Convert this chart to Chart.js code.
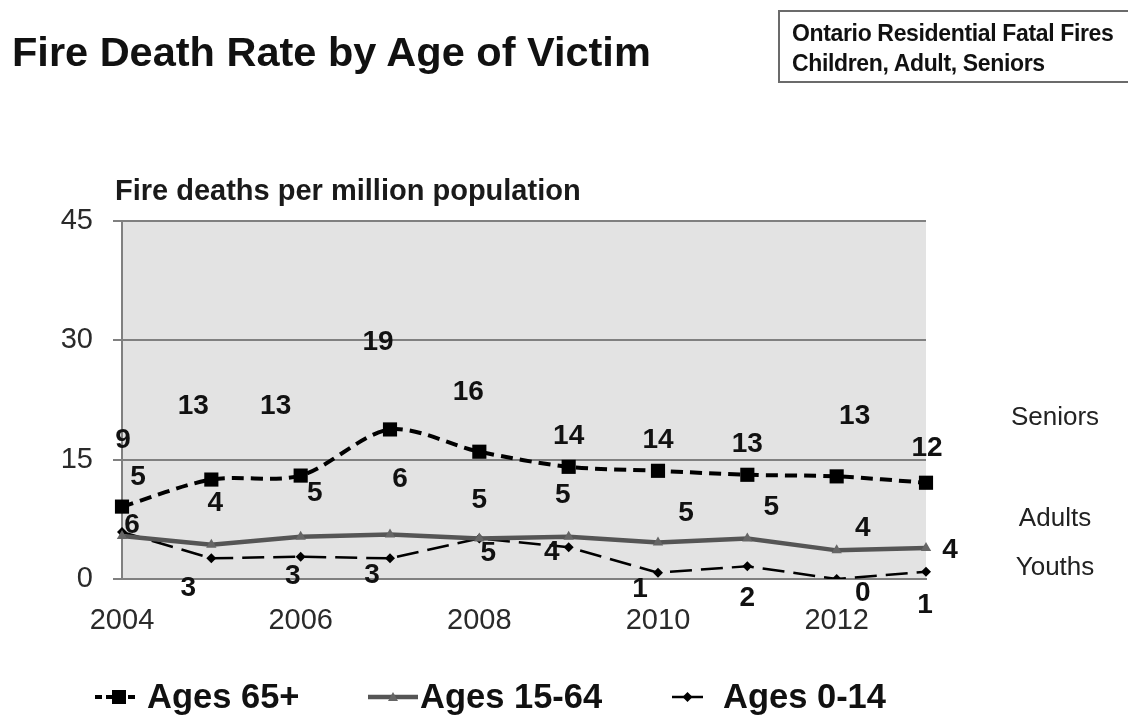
<!DOCTYPE html>
<html>
<head>
<meta charset="utf-8">
<script src="https://cdn.jsdelivr.net/npm/chart.js@4.4.1/dist/chart.umd.min.js"></script>
<style>
  body { margin: 0; background: #fff; font-family: "Liberation Sans", Arial, sans-serif; }
  #wrap { position: relative; width: 1128px; height: 717px; overflow: hidden; }
  #title { position: absolute; left: 12px; top: 31px; font-weight: bold; font-size: 41.5px; line-height: 1; color: #111; white-space: nowrap; }
  #box { position: absolute; left: 778px; top: 10px; width: 400px; height: 73px; border: 2px solid #6b6b6b; box-sizing: border-box; }
  #boxText { position: absolute; left: 792px; top: 18px; font-weight: bold; font-size: 23px; line-height: 30px; letter-spacing: -0.35px; color: #111; white-space: nowrap; }
  canvas { position: absolute; left: 0; top: 0; }
</style>
</head>
<body>
<div id="wrap">
  <canvas id="chart" width="1128" height="717"></canvas>
  <div id="title">Fire Death Rate by Age of Victim</div>
  <div id="box"></div>
  <div id="boxText">Ontario Residential Fatal Fires<br>Children, Adult, Seniors</div>
</div>
<script>
// chart values
const years = ['2004', '2005', '2006', '2007', '2008', '2009', '2010', '2011', '2012', '2013'];
const shownYears = ['2004', '2006', '2008', '2010', '2012'];
const seniors = [9.1, 12.5, 13.0, 18.8, 16.0, 14.1, 13.6, 13.1, 12.9, 12.1];
const adults = [5.4, 4.3, 5.3, 5.6, 5.1, 5.3, 4.6, 5.1, 3.6, 3.9];
const youths = [5.9, 2.6, 2.8, 2.6, 5.1, 4.0, 0.8, 1.6, 0.0, 0.9];
const seriesNames = ['Ages 65+', 'Ages 15-64', 'Ages 0-14'];
const groupNames = ['Seniors', 'Adults', 'Youths'];
const yAxisTitle = 'Fire deaths per million population';

// label nudges (px) so the numbers sit where the original put them
const seniorsShift = [[1,-66],[-18,-73],[-25,-69],[-12,-87],[-11,-59],[0,-31],[0,-31],[0,-31],[18,-60],[1,-34]];
const adultsShift = [[16,-59],[4,-42],[14,-44],[10,-55],[0,-38],[-6,-42],[28,-29],[24,-31],[26,-22],[24,2]];
const youthsShift = [[10,-7],[-23,30],[-8,20],[-18,17],[9,15],[-17,5],[-18,17],[0,32],[26,14],[-1,33]];

const FONT = '"Liberation Sans", Arial, sans-serif';

function marker(ctx, style, x, y, r, color) {
    ctx.save();
    ctx.fillStyle = color;
    ctx.beginPath();
    if (style === 'rect') {
        ctx.rect(x - r, y - r, 2 * r, 2 * r);
    } else if (style === 'triangle') {
        ctx.moveTo(x, y - r);
        ctx.lineTo(x + r, y + r * 0.8);
        ctx.lineTo(x - r, y + r * 0.8);
        ctx.closePath();
    } else {
        ctx.moveTo(x, y - r);
        ctx.lineTo(x + r, y);
        ctx.lineTo(x, y + r);
        ctx.lineTo(x - r, y);
        ctx.closePath();
    }
    ctx.fill();
    ctx.restore();
}

const decor = {
    id: 'decor',
    beforeDraw(chart) {
        const { ctx, chartArea: a } = chart;
        ctx.save();
        ctx.fillStyle = '#e3e3e3';
        ctx.fillRect(a.left, a.top, a.right - a.left, a.bottom - a.top);
        ctx.restore();
    },
    afterDatasetsDraw(chart) {
        const ctx = chart.ctx;
        const shifts = [seniorsShift, adultsShift, youthsShift];
        ctx.save();
        ctx.font = 'bold 28px ' + FONT;
        ctx.fillStyle = '#111';
        ctx.textAlign = 'center';
        ctx.textBaseline = 'middle';
        chart.data.datasets.forEach((ds, di) => {
            chart.getDatasetMeta(di).data.forEach((pt, i) => {
                const s = shifts[di][i];
                ctx.fillText(String(Math.round(ds.data[i])), pt.x + s[0], pt.y + s[1]);
            });
        });
        ctx.restore();
    },
    afterDraw(chart) {
        const { ctx, chartArea: a, scales } = chart;
        ctx.save();
        // axis title above the plot
        ctx.font = 'bold 29px ' + FONT;
        ctx.fillStyle = '#1a1a1a';
        ctx.textAlign = 'left';
        ctx.textBaseline = 'middle';
        ctx.fillText(yAxisTitle, a.left - 7, a.top - 29);

        // group names at the right
        ctx.font = '26px ' + FONT;
        ctx.fillStyle = '#222';
        ctx.textAlign = 'center';
        const groupAt = [20.25, 7.6, 1.4];
        groupNames.forEach((n, i) => {
            ctx.fillText(n, 1055, scales.y.getPixelForValue(groupAt[i]));
        });

        // legend along the bottom
        const legX = [95, 368, 672];
        const legW = [40, 50, 31];
        const textX = [147, 420, 723];
        const ly = 697;
        chart.data.datasets.forEach((ds, i) => {
            ctx.save();
            ctx.strokeStyle = ds.borderColor;
            ctx.lineWidth = ds.borderWidth;
            ctx.setLineDash(i === 0 ? [7, 4] : []);
            ctx.beginPath();
            ctx.moveTo(legX[i], ly);
            ctx.lineTo(legX[i] + legW[i], ly);
            ctx.stroke();
            ctx.restore();
            marker(ctx, ds.pointStyle, legX[i] + legW[i] / 2 + (i === 0 ? 4 : 0), ly, i === 0 ? 7 : 5, ds.pointBackgroundColor);
            ctx.font = 'bold 34.5px ' + FONT;
            ctx.fillStyle = '#111';
            ctx.textAlign = 'left';
            ctx.textBaseline = 'alphabetic';
            ctx.fillText(ds.label, textX[i], 708);
        });
        ctx.restore();
    }
};

new Chart(document.getElementById('chart'), {
    type: 'line',
    data: {
        labels: years,
        datasets: [{
            label: seriesNames[0],
            data: seniors,
            borderColor: '#000',
            borderWidth: 4,
            borderDash: [12, 7],
            tension: 0.3,
            pointStyle: 'rect',
            pointRadius: 10,
            pointBackgroundColor: '#000',
            pointBorderWidth: 0
        }, {
            label: seriesNames[1],
            data: adults,
            borderColor: '#555',
            borderWidth: 4.5,
            tension: 0,
            pointStyle: 'triangle',
            pointRadius: 6,
            pointBackgroundColor: '#666',
            pointBorderWidth: 0
        }, {
            label: seriesNames[2],
            data: youths,
            borderColor: '#000',
            borderWidth: 2.5,
            borderDash: [22, 9],
            tension: 0,
            pointStyle: 'rectRot',
            pointRadius: 5,
            pointBackgroundColor: '#000',
            pointBorderWidth: 0
        }]
    },
    options: {
        responsive: false,
        animation: false,
        devicePixelRatio: 1,
        layout: { padding: { left: 0, right: 202, top: 221, bottom: 78 } },
        plugins: {
            legend: { display: false },
            tooltip: { enabled: false }
        },
        scales: {
            x: {
                grid: { display: false },
                border: { color: '#808080', width: 2 },
                ticks: {
                    autoSkip: false,
                    maxRotation: 0,
                    padding: 17,
                    color: '#2a2a2a',
                    font: { family: FONT, size: 29 },
                    callback(v) {
                        const l = this.getLabelForValue(v);
                        return shownYears.includes(l) ? l : '';
                    }
                },
                afterFit(s) { s.height = 60; }
            },
            y: {
                min: 0,
                max: 45,
                grid: { color: '#808080', lineWidth: 2, tickLength: 9 },
                border: { color: '#808080', width: 2 },
                ticks: {
                    stepSize: 15,
                    padding: 20,
                    color: '#2a2a2a',
                    font: { family: FONT, size: 29 }
                },
                afterFit(s) { s.width = 122; }
            }
        }
    },
    plugins: [decor]
});
</script>
</body>
</html>
